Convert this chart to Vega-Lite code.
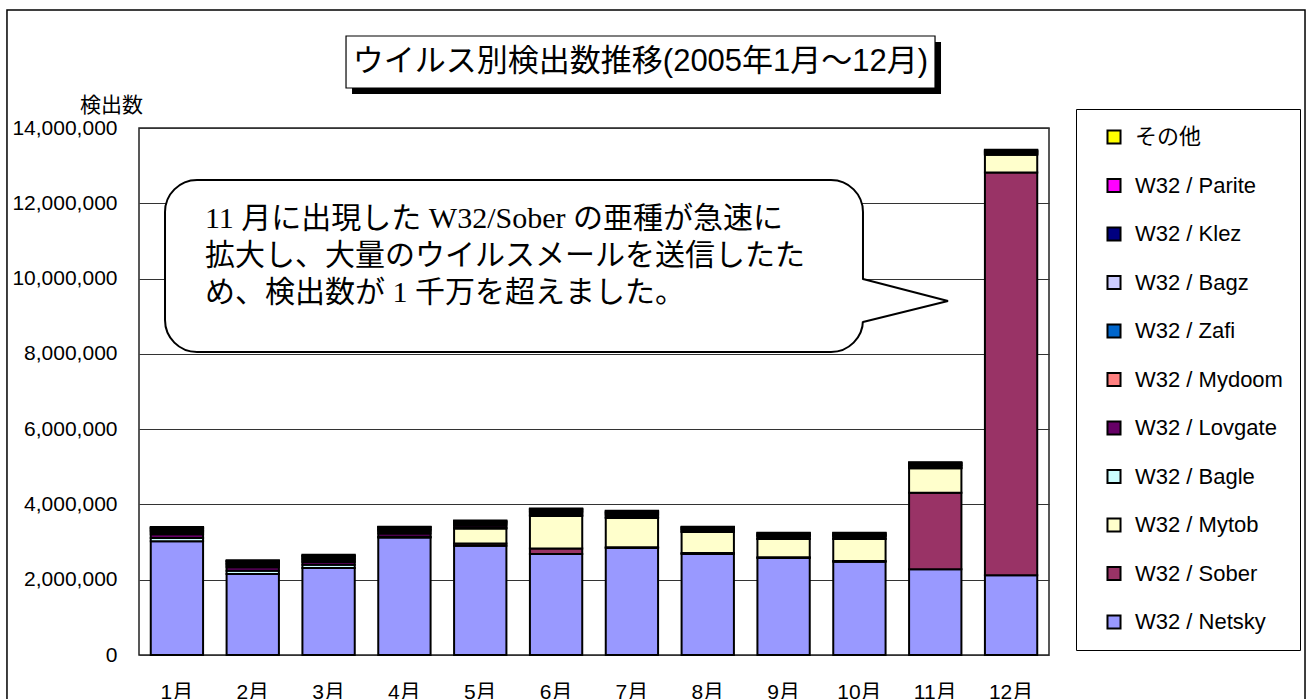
{
"$schema": "https://vega.github.io/schema/vega-lite/v6.json",
"width": 910, "height": 527,
"autosize": {"type": "none"},
"padding": {"left": 139, "top": 128, "right": 259, "bottom": 44},
"background": "white",
"config": {
  "view": {"stroke": "#222", "strokeWidth": 1.5},
  "font": "'Liberation Sans', 'Noto Sans CJK JP', sans-serif",
  "axis": {"labelColor": "black", "titleColor": "black", "labelFont": "'Liberation Sans', 'Noto Sans CJK JP', sans-serif", "titleFont": "'Liberation Sans', 'Noto Sans CJK JP', sans-serif"},
  "legend": {"labelFont": "'Liberation Sans', 'Noto Sans CJK JP', sans-serif", "labelColor": "black"}
},
"resolve": {"scale": {"x": "independent", "y": "independent"}},
"layer": [
  {
    "data": {"values": [{"x1": -1.741, "x2": 15.376, "y1": 17135000, "y2": -2000000}]},
    "mark": {"type": "rect", "fillOpacity": 0, "stroke": "black", "strokeWidth": 1.5},
    "encoding": {
      "x": {"field": "x1", "type": "quantitative", "scale": {"domain": [0, 12], "nice": false, "zero": false}, "axis": null},
      "x2": {"field": "x2"},
      "y": {"field": "y1", "type": "quantitative", "scale": {"domain": [0, 14000000], "nice": false}, "axis": null},
      "y2": {"field": "y2"}
    }
  },
  {
    "data": {"values": [
      {"m":"1月","v":"W32/Netsky","n":3020000},{"m":"1月","v":"W32/Bagle","n":90000},{"m":"1月","v":"W32/Lovgate","n":100000},{"m":"1月","v":"W32/Mydoom","n":50000},{"m":"1月","v":"W32/Zafi","n":40000},{"m":"1月","v":"W32/Bagz","n":30000},{"m":"1月","v":"W32/Klez","n":40000},{"m":"1月","v":"W32/Parite","n":10000},{"m":"1月","v":"その他","n":20000},
      {"m":"2月","v":"W32/Netsky","n":2150000},{"m":"2月","v":"W32/Bagle","n":90000},{"m":"2月","v":"W32/Lovgate","n":90000},{"m":"2月","v":"W32/Mydoom","n":50000},{"m":"2月","v":"W32/Zafi","n":40000},{"m":"2月","v":"W32/Bagz","n":30000},{"m":"2月","v":"W32/Klez","n":40000},{"m":"2月","v":"W32/Parite","n":10000},{"m":"2月","v":"その他","n":20000},
      {"m":"3月","v":"W32/Netsky","n":2310000},{"m":"3月","v":"W32/Bagle","n":90000},{"m":"3月","v":"W32/Lovgate","n":70000},{"m":"3月","v":"W32/Mydoom","n":50000},{"m":"3月","v":"W32/Zafi","n":40000},{"m":"3月","v":"W32/Bagz","n":30000},{"m":"3月","v":"W32/Klez","n":40000},{"m":"3月","v":"W32/Parite","n":10000},{"m":"3月","v":"その他","n":20000},
      {"m":"4月","v":"W32/Netsky","n":3120000},{"m":"4月","v":"W32/Bagle","n":20000},{"m":"4月","v":"W32/Lovgate","n":90000},{"m":"4月","v":"W32/Mydoom","n":50000},{"m":"4月","v":"W32/Zafi","n":40000},{"m":"4月","v":"W32/Bagz","n":30000},{"m":"4月","v":"W32/Klez","n":40000},{"m":"4月","v":"W32/Parite","n":10000},{"m":"4月","v":"その他","n":10000},
      {"m":"5月","v":"W32/Netsky","n":2900000},{"m":"5月","v":"W32/Sober","n":60000},{"m":"5月","v":"W32/Mytob","n":400000},{"m":"5月","v":"W32/Bagle","n":20000},{"m":"5月","v":"W32/Lovgate","n":60000},{"m":"5月","v":"W32/Mydoom","n":40000},{"m":"5月","v":"W32/Zafi","n":30000},{"m":"5月","v":"W32/Bagz","n":20000},{"m":"5月","v":"W32/Klez","n":30000},{"m":"5月","v":"W32/Parite","n":10000},
      {"m":"6月","v":"W32/Netsky","n":2680000},{"m":"6月","v":"W32/Sober","n":150000},{"m":"6月","v":"W32/Mytob","n":860000},{"m":"6月","v":"W32/Bagle","n":20000},{"m":"6月","v":"W32/Lovgate","n":50000},{"m":"6月","v":"W32/Mydoom","n":30000},{"m":"6月","v":"W32/Zafi","n":30000},{"m":"6月","v":"W32/Bagz","n":20000},{"m":"6月","v":"W32/Klez","n":30000},{"m":"6月","v":"W32/Parite","n":10000},{"m":"6月","v":"その他","n":10000},
      {"m":"7月","v":"W32/Netsky","n":2840000},{"m":"7月","v":"W32/Sober","n":20000},{"m":"7月","v":"W32/Mytob","n":780000},{"m":"7月","v":"W32/Bagle","n":20000},{"m":"7月","v":"W32/Lovgate","n":50000},{"m":"7月","v":"W32/Mydoom","n":30000},{"m":"7月","v":"W32/Zafi","n":30000},{"m":"7月","v":"W32/Bagz","n":20000},{"m":"7月","v":"W32/Klez","n":30000},{"m":"7月","v":"W32/Parite","n":10000},
      {"m":"8月","v":"W32/Netsky","n":2680000},{"m":"8月","v":"W32/Sober","n":30000},{"m":"8月","v":"W32/Mytob","n":560000},{"m":"8月","v":"W32/Bagle","n":10000},{"m":"8月","v":"W32/Lovgate","n":40000},{"m":"8月","v":"W32/Mydoom","n":20000},{"m":"8月","v":"W32/Zafi","n":20000},{"m":"8月","v":"W32/Bagz","n":20000},{"m":"8月","v":"W32/Klez","n":20000},{"m":"8月","v":"W32/Parite","n":10000},
      {"m":"9月","v":"W32/Netsky","n":2580000},{"m":"9月","v":"W32/Sober","n":20000},{"m":"9月","v":"W32/Mytob","n":480000},{"m":"9月","v":"W32/Bagle","n":10000},{"m":"9月","v":"W32/Lovgate","n":50000},{"m":"9月","v":"W32/Mydoom","n":30000},{"m":"9月","v":"W32/Zafi","n":20000},{"m":"9月","v":"W32/Bagz","n":20000},{"m":"9月","v":"W32/Klez","n":30000},{"m":"9月","v":"W32/Parite","n":10000},
      {"m":"10月","v":"W32/Netsky","n":2480000},{"m":"10月","v":"W32/Sober","n":20000},{"m":"10月","v":"W32/Mytob","n":580000},{"m":"10月","v":"W32/Bagle","n":10000},{"m":"10月","v":"W32/Lovgate","n":50000},{"m":"10月","v":"W32/Mydoom","n":30000},{"m":"10月","v":"W32/Zafi","n":20000},{"m":"10月","v":"W32/Bagz","n":20000},{"m":"10月","v":"W32/Klez","n":30000},{"m":"10月","v":"W32/Parite","n":10000},
      {"m":"11月","v":"W32/Netsky","n":2280000},{"m":"11月","v":"W32/Sober","n":2030000},{"m":"11月","v":"W32/Mytob","n":650000},{"m":"11月","v":"W32/Bagle","n":10000},{"m":"11月","v":"W32/Lovgate","n":40000},{"m":"11月","v":"W32/Mydoom","n":20000},{"m":"11月","v":"W32/Zafi","n":20000},{"m":"11月","v":"W32/Bagz","n":20000},{"m":"11月","v":"W32/Klez","n":30000},{"m":"11月","v":"W32/Parite","n":10000},{"m":"11月","v":"その他","n":10000},
      {"m":"12月","v":"W32/Netsky","n":2120000},{"m":"12月","v":"W32/Sober","n":10700000},{"m":"12月","v":"W32/Mytob","n":470000},{"m":"12月","v":"W32/Bagle","n":10000},{"m":"12月","v":"W32/Lovgate","n":30000},{"m":"12月","v":"W32/Mydoom","n":20000},{"m":"12月","v":"W32/Zafi","n":20000},{"m":"12月","v":"W32/Bagz","n":20000},{"m":"12月","v":"W32/Klez","n":20000},{"m":"12月","v":"W32/Parite","n":10000}
    ]},
    "transform": [
      {"calculate": "indexof(['W32/Netsky','W32/Sober','W32/Mytob','W32/Bagle','W32/Lovgate','W32/Mydoom','W32/Zafi','W32/Bagz','W32/Klez','W32/Parite','その他'], datum.v)", "as": "k"}
    ],
    "mark": {"type": "bar", "stroke": "black", "strokeWidth": 2},
    "encoding": {
      "x": {"field": "m", "type": "nominal", "sort": ["1月","2月","3月","4月","5月","6月","7月","8月","9月","10月","11月","12月"],
        "scale": {"paddingInner": 0.31, "paddingOuter": 0.155},
        "axis": {"title": null, "labelAngle": 0, "ticks": false, "domain": false, "labelPadding": 26, "labelFontSize": 21, "labelBaseline": "top"}},
      "y": {"field": "n", "type": "quantitative", "stack": "zero",
        "scale": {"domain": [0, 14000000], "nice": false},
        "axis": {"title": "検出数", "values": [0,2000000,4000000,6000000,8000000,10000000,12000000,14000000], "format": ",d", "grid": true, "gridColor": "#333", "gridWidth": 1, "domain": false, "ticks": false, "labelPadding": 22, "labelFontSize": 21,
          "titleAngle": 0, "titleX": -28, "titleY": -23, "titleAlign": "center", "titleBaseline": "middle", "titleFontSize": 21, "titleFontWeight": "normal"}},
      "color": {"field": "v", "type": "nominal",
        "scale": {"domain": ["その他","W32/Parite","W32/Klez","W32/Bagz","W32/Zafi","W32/Mydoom","W32/Lovgate","W32/Bagle","W32/Mytob","W32/Sober","W32/Netsky"],
                  "range": ["#FFFF00","#FF00FF","#000080","#CCCCFF","#0066CC","#FF8080","#660066","#CCFFFF","#FFFFCC","#993366","#9999FF"]},
        "legend": {"title": null, "orient": "none", "legendX": 937, "legendY": -19, "strokeColor": "black", "fillColor": "white", "padding": 17,
          "symbolType": "square", "symbolSize": 170, "symbolStrokeColor": "black", "symbolStrokeWidth": 2, "symbolOpacity": 1, "symbolOffset": 10,
          "labelFontSize": 22, "rowPadding": 26.5, "labelOffset": 10, "labelExpr": "replace(datum.label, '/', ' / ')"}},
      "order": {"field": "k", "type": "quantitative"}
    }
  },
  {
    "data": {"values": [{"x1": 2.809, "x2": 10.576, "y1": 16285000, "y2": 14903000}]},
    "mark": {"type": "rect", "fill": "black"},
    "encoding": {
      "x": {"field": "x1", "type": "quantitative", "scale": {"domain": [0, 12], "nice": false, "zero": false}, "axis": null},
      "x2": {"field": "x2"},
      "y": {"field": "y1", "type": "quantitative", "scale": {"domain": [0, 14000000], "nice": false}, "axis": null},
      "y2": {"field": "y2"}
    }
  },
  {
    "data": {"values": [{"x1": 2.730, "x2": 10.497, "y1": 16444000, "y2": 15063000}]},
    "mark": {"type": "rect", "fill": "white", "stroke": "black", "strokeWidth": 1.2},
    "encoding": {
      "x": {"field": "x1", "type": "quantitative", "scale": {"domain": [0, 12], "nice": false, "zero": false}, "axis": null},
      "x2": {"field": "x2"},
      "y": {"field": "y1", "type": "quantitative", "scale": {"domain": [0, 14000000], "nice": false}, "axis": null},
      "y2": {"field": "y2"}
    }
  },
  {
    "data": {"values": [{"x": 6.613, "y": 15753000, "t": "ウイルス別検出数推移(2005年1月～12月)"}]},
    "mark": {"type": "text", "align": "center", "baseline": "middle", "fontSize": 31, "font": "'Liberation Sans', 'Noto Sans CJK JP', sans-serif", "color": "black"},
    "encoding": {
      "x": {"field": "x", "type": "quantitative", "scale": {"domain": [0, 12], "nice": false, "zero": false}, "axis": null},
      "y": {"field": "y", "type": "quantitative", "scale": {"domain": [0, 14000000], "nice": false}, "axis": null},
      "text": {"field": "t"}
    }
  },
  {
    "data": {"values": [{"x1": 0.343, "x2": 9.547, "y1": 12619000, "y2": 8049000}]},
    "mark": {"type": "rect", "fill": "white", "stroke": "black", "strokeWidth": 2, "cornerRadius": 32},
    "encoding": {
      "x": {"field": "x1", "type": "quantitative", "scale": {"domain": [0, 12], "nice": false, "zero": false}, "axis": null},
      "x2": {"field": "x2"},
      "y": {"field": "y1", "type": "quantitative", "scale": {"domain": [0, 14000000], "nice": false}, "axis": null},
      "y2": {"field": "y2"}
    }
  },
  {
    "data": {"values": [{"x": 9.50, "y1": 9989000, "y2": 8846000}, {"x": 10.668, "y1": 9404000, "y2": 9404000}]},
    "mark": {"type": "area", "fill": "white", "opacity": 1, "orient": "vertical"},
    "encoding": {
      "x": {"field": "x", "type": "quantitative", "scale": {"domain": [0, 12], "nice": false, "zero": false}, "axis": null},
      "y": {"field": "y1", "type": "quantitative", "scale": {"domain": [0, 14000000], "nice": false}, "axis": null},
      "y2": {"field": "y2"}
    }
  },
  {
    "data": {"values": [{"x": 9.547, "y": 9989000, "o": 1}, {"x": 10.668, "y": 9404000, "o": 2}, {"x": 9.547, "y": 8846000, "o": 3}]},
    "mark": {"type": "line", "stroke": "black", "strokeWidth": 2},
    "encoding": {
      "x": {"field": "x", "type": "quantitative", "scale": {"domain": [0, 12], "nice": false, "zero": false}, "axis": null},
      "y": {"field": "y", "type": "quantitative", "scale": {"domain": [0, 14000000], "nice": false}, "axis": null},
      "order": {"field": "o", "type": "quantitative"}
    }
  },
  {
    "data": {"values": [{"x": 0.870, "y": 11583000, "t": "11 月に出現した W32/Sober の亜種が急速に\n拡大し、大量のウイルスメールを送信したた\nめ、検出数が 1 千万を超えました。"}]},
    "mark": {"type": "text", "align": "left", "baseline": "middle", "fontSize": 30, "lineHeight": 37, "lineBreak": "\n", "font": "'Liberation Serif', 'Noto Sans CJK JP', serif", "color": "black"},
    "encoding": {
      "x": {"field": "x", "type": "quantitative", "scale": {"domain": [0, 12], "nice": false, "zero": false}, "axis": null},
      "y": {"field": "y", "type": "quantitative", "scale": {"domain": [0, 14000000], "nice": false}, "axis": null},
      "text": {"field": "t"}
    }
  }
]
}
